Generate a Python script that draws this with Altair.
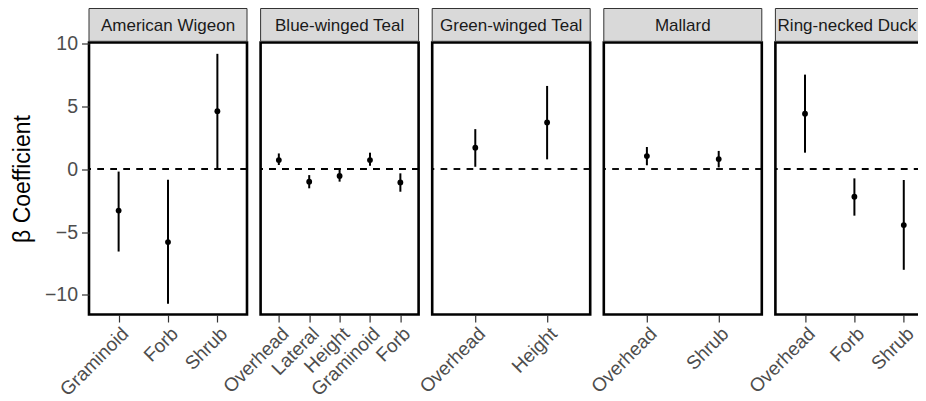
import altair as alt
import pandas as pd

FONT = "Liberation Sans"

species = ["American Wigeon", "Blue-winged Teal", "Green-winged Teal", "Mallard", "Ring-necked Duck"]

aw_cats = ["Graminoid", "Forb", "Shrub"]
aw_est = [-3.3, -5.8, 4.6]
aw_lo = [-6.55, -10.7, 0.0]
aw_hi = [-0.2, -0.85, 9.15]

bwt_cats = ["Overhead", "Lateral", "Height", "Graminoid", "Forb"]
bwt_est = [0.71, -1.0, -0.55, 0.71, -1.06]
bwt_lo = [0.32, -1.53, -1.0, 0.26, -1.8]
bwt_hi = [1.24, -0.48, -0.05, 1.3, -0.34]

gwt_cats = ["Overhead", "Height"]
gwt_est = [1.7, 3.7]
gwt_lo = [0.18, 0.77]
gwt_hi = [3.17, 6.6]

mal_cats = ["Overhead", "Shrub"]
mal_est = [1.03, 0.79]
mal_lo = [0.3, 0.13]
mal_hi = [1.75, 1.44]

rnd_cats = ["Overhead", "Forb", "Shrub"]
rnd_est = [4.4, -2.2, -4.45]
rnd_lo = [1.3, -3.7, -8.0]
rnd_hi = [7.5, -0.74, -0.87]

y_ticks = [-10, -5, 0, 5, 10]
y_domain = [-11.55, 10.05]

W = 158
H = 272
STRIP = 34
BORDER = 2.6

LEFT = 81
TOP = 34.5
SVG_W = 910
SVG_H = 382
SPACING = 13.6


def panel(name, cats, est, lo, hi, first, last):
    df = pd.DataFrame({"cat": cats, "est": est, "lo": lo, "hi": hi})
    xsc = alt.Scale(type="point", domain=cats, padding=0.6)
    ysc = alt.Scale(domain=y_domain, nice=False, zero=False)
    xax = alt.Axis(title=None, labelAngle=-45, labelAlign="right", labelBaseline="top")
    if first:
        yax = alt.Axis(title="β Coefficient", values=y_ticks,
                       labelExpr="replace(datum.label, '-', '−')")
    else:
        yax = None
    base = alt.Chart(df)
    zero = base.mark_rule(strokeDash=[6.5, 6.5], color="black", strokeWidth=1.6).encode(
        y=alt.YDatum(0, scale=ysc, axis=yax, title="β Coefficient")
    )
    bars = base.mark_rule(color="black", strokeWidth=2).encode(
        x=alt.X("cat:N", scale=xsc, axis=xax),
        y=alt.Y("lo:Q", scale=ysc, axis=yax, title="β Coefficient"),
        y2="hi:Q",
    )
    pts = base.mark_circle(color="black", opacity=1, size=34).encode(
        x=alt.X("cat:N", scale=xsc, axis=xax),
        y=alt.Y("est:Q", scale=ysc, axis=yax, title="β Coefficient"),
    )
    sdata = alt.Data(values=[{"s": name}])
    srect = alt.Chart(sdata).mark_rect(fill="#d9d9d9", stroke="#333333", strokeWidth=1).encode(
        x=alt.value(0), x2=alt.value(W), y=alt.value(-STRIP), y2=alt.value(-1.2)
    )
    if last:
        # the last panel is cut off by the page edge: keep its label inside
        visible = SVG_W - LEFT - 4 * (W + SPACING)
        stext = alt.Chart(sdata).mark_text(font=FONT, fontSize=17, color="#1a1a1a", align="right").encode(
            x=alt.value(visible - 1.5), y=alt.value(-STRIP / 2 + 0.5), text="s:N"
        )
    else:
        stext = alt.Chart(sdata).mark_text(font=FONT, fontSize=17, color="#1a1a1a").encode(
            x=alt.value(W / 2), y=alt.value(-STRIP / 2 + 0.5), text="s:N"
        )
    return alt.layer(zero, bars, pts, srect, stext).properties(width=W, height=H)


panels = [
    panel(species[0], aw_cats, aw_est, aw_lo, aw_hi, True, False),
    panel(species[1], bwt_cats, bwt_est, bwt_lo, bwt_hi, False, False),
    panel(species[2], gwt_cats, gwt_est, gwt_lo, gwt_hi, False, False),
    panel(species[3], mal_cats, mal_est, mal_lo, mal_hi, False, False),
    panel(species[4], rnd_cats, rnd_est, rnd_lo, rnd_hi, False, True),
]

chart = alt.hconcat(*panels, spacing=SPACING, bounds="flush").resolve_scale(
    x="independent"
).properties(
    autosize=alt.AutoSizeParams(type="none"),
    padding={"left": LEFT, "top": TOP, "right": SVG_W - LEFT, "bottom": SVG_H - TOP},
).configure_view(
    stroke="black", strokeWidth=BORDER
).configure_axis(
    labelFont=FONT, titleFont=FONT, labelFontSize=19, labelColor="#4d4d4d",
    tickColor="#333333", tickSize=7.5, tickWidth=1.2, domain=False, grid=False,
    labelPadding=2, titleFontSize=23, titleColor="black", titleFontWeight="normal",
    titlePadding=10
).configure_axisY(
    labelFontSize=19.5, labelPadding=4
)

chart.save("out.html", embed_options={"renderer": "svg", "actions": False})
